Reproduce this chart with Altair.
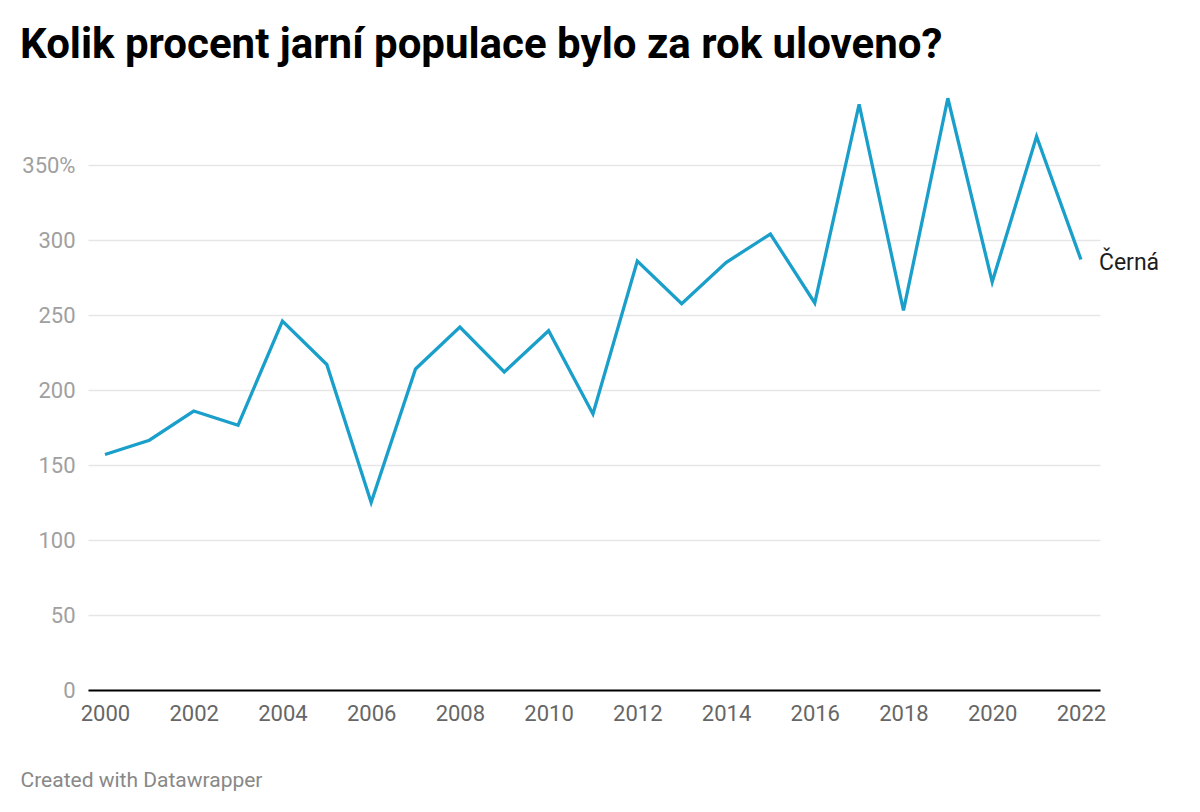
import altair as alt
import pandas as pd

years = list(range(2000, 2023))
values = [157, 166.5, 186, 176.5, 246, 217, 125, 214, 242, 212, 239.5, 184,
          286, 257.5, 285, 304, 258, 390.5, 253, 394.5, 272, 369, 287]
series_name = "Černá"
y_ticks = [0, 50, 100, 150, 200, 250, 300, 350]
x_ticks = list(range(2000, 2023, 2))

df = pd.DataFrame({"year": years, "value": values, "series": series_name})

x_enc = alt.X("year:Q",
              scale=alt.Scale(domain=[1999.617, 2022.43], nice=False, zero=False),
              axis=alt.Axis(values=x_ticks, format="d", grid=False, ticks=False,
                            domain=True, domainColor="#000000", domainWidth=2,
                            labelColor="#666666", labelFontSize=22, labelFont="Roboto",
                            labelPadding=13, labelFlush=False,
                            title="Created with Datawrapper", titleFont="Roboto",
                            titleFontSize=21, titleFontWeight="normal", titleColor="#888888",
                            titleAnchor="start", titleAlign="left", titleX=-68, titleY=96,
                            titleBaseline="alphabetic"))
y_enc = alt.Y("value:Q",
              scale=alt.Scale(domain=[0, 400], nice=False),
              axis=alt.Axis(values=y_ticks, title=None, domain=False, ticks=False,
                            grid=True, gridColor="#e6e6e6", gridWidth=1.5,
                            labelColor="#a0a0a0", labelFontSize=22, labelFont="Roboto",
                            labelPadding=13,
                            labelExpr="datum.value == 350 ? '350%' : datum.label"))

line = alt.Chart(df).mark_line(color="#1a9fcb", strokeWidth=3.3, strokeJoin="miter").encode(
    x=x_enc, y=y_enc)

label = alt.Chart(df).transform_filter(alt.datum.year == 2022).mark_text(
    align="left", baseline="middle", dx=18, dy=3, fontSize=23, font="Roboto",
    color="#1d1d1d").encode(x="year:Q", y="value:Q", text="series:N")

chart = alt.layer(line, label).properties(
    width=1012, height=600,
    title=alt.TitleParams("Kolik procent jarní populace bylo za rok uloveno?",
                          anchor="start", frame="group", font="Roboto", fontSize=42,
                          fontWeight="bold", color="#000000", dx=-68, dy=40, offset=30,
                          baseline="alphabetic"),
    padding={"left": 80, "top": 82, "right": 92, "bottom": 114},
    autosize=alt.AutoSizeParams(type="none"),
).configure_view(stroke=None)

chart.save("out.html", embed_options={"renderer": "svg", "actions": False})
